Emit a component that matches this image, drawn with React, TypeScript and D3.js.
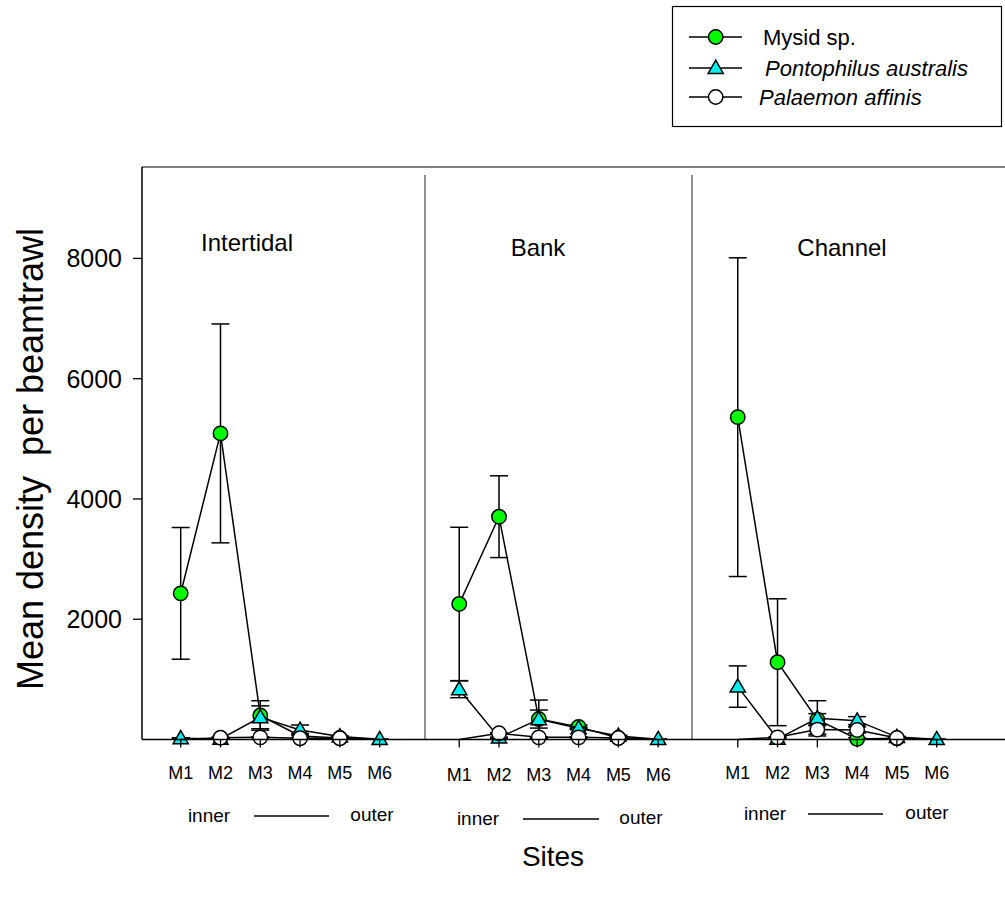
import React from 'react';
import * as d3 from 'd3';

const panels = ['Intertidal', 'Bank', 'Channel'];
const sites = ['M1', 'M2', 'M3', 'M4', 'M5', 'M6'];
const yTicks = [2000, 4000, 6000, 8000];

// per panel (Intertidal, Bank, Channel), sites M1..M6
const mysidMean = [
  [2430, 5090, 400, 60, 25, 0],
  [2254, 3705, 340, 210, 25, 0],
  [5360, 1285, 330, 10, 20, 0],
];
const mysidSE = [
  [1095, 1820, 245, 40, 10, 0],
  [1275, 680, 150, 30, 10, 0],
  [2650, 1055, 100, 20, 10, 0],
];
const pontoMean = [
  [20, 10, 369, 158, 50, 5],
  [835, 30, 336, 186, 60, 5],
  [880, 10, 352, 313, 40, 5],
];
const pontoSE = [
  [10, 10, 190, 83, 10, 5],
  [140, 10, 320, 20, 10, 5],
  [344, 10, 293, 67, 10, 5],
];
const palaMean = [
  [0, 30, 36, 20, 20, 0],
  [0, 103, 36, 36, 25, 0],
  [0, 36, 165, 158, 25, 0],
];
const palaSE = [
  [0, 10, 10, 10, 10, 0],
  [0, 10, 10, 10, 10, 0],
  [0, 10, 75, 50, 10, 0],
];
const dividers = [7.14, 13.85];

const W = 1005;
const H = 903;
const left = 142;
const right = 1005;
const top = 167;
const bottom = 739.5;

const x = d3.scaleLinear().domain([1, 20]).range([180.7, 936.7]);
const y = d3.scaleLinear().domain([0, 9520]).range([bottom, top]);
const pos = (k: number, i: number) => k * 7 + i + 1;

const GREEN = '#00ff00';
const CYAN = '#00eeee';
const font = 'Arial, "Liberation Sans", Helvetica, sans-serif';

type Shape = 'circle' | 'triangle';

function Marker({ cx, cy, shape, fill }: { cx: number; cy: number; shape: Shape; fill: string }) {
  if (shape === 'circle') {
    return <circle cx={cx} cy={cy} r={7.2} fill={fill} stroke="#000" strokeWidth={1.5} />;
  }
  const sym = d3.symbol().type(d3.symbolTriangle).size(100)();
  return <path d={sym || ''} transform={`translate(${cx},${cy + 1})`} fill={fill} stroke="#000" strokeWidth={1.5} />;
}

function Series({ means, ses, shape, fill }: { means: number[][]; ses: number[][]; shape: Shape; fill: string }) {
  const line = d3.line<[number, number]>().x((d) => d[0]).y((d) => d[1]);
  return (
    <g>
      {means.map((row, k) => {
        const pts: [number, number][] = row.map((v, i) => [x(pos(k, i)), y(v)]);
        return <path key={'l' + k} d={line(pts) || ''} fill="none" stroke="#000" strokeWidth={1.5} />;
      })}
      {means.map((row, k) =>
        row.map((v, i) => {
          const se = ses[k][i];
          if (!se) return null;
          const cx = x(pos(k, i));
          const y1 = y(v + se);
          const y0 = y(Math.max(v - se, 0));
          return (
            <g key={'e' + k + '-' + i} stroke="#000" strokeWidth={1.5}>
              <line x1={cx} x2={cx} y1={y1} y2={y0} />
              <line x1={cx - 9} x2={cx + 9} y1={y1} y2={y1} />
              {v - se > 0 && <line x1={cx - 9} x2={cx + 9} y1={y0} y2={y0} />}
            </g>
          );
        })
      )}
      {means.map((row, k) =>
        row.map((v, i) =>
          v === 0 ? null : (
            <Marker key={'m' + k + '-' + i} cx={x(pos(k, i))} cy={y(v)} shape={shape} fill={fill} />
          )
        )
      )}
    </g>
  );
}

const innerOuter = [
  { inner: 209, lineA: 254, lineB: 329, outer: 372, y: 816 },
  { inner: 478, lineA: 523, lineB: 599, outer: 641, y: 819 },
  { inner: 765, lineA: 808, lineB: 883, outer: 927, y: 814 },
];
const titleX = [247, 538, 842];

export default function App() {
  return (
    <svg width={W} height={H} style={{ position: 'absolute', left: 0, top: 0, background: '#fff' }} fontFamily={font}>
      <rect x={0} y={0} width={W} height={H} fill="#fff" />
      {/* legend */}
      <g>
        <rect x={672.5} y={6.5} width={329} height={120} fill="#fff" stroke="#000" strokeWidth={1.2} />
        {[
          { label: 'Mysid sp.', shape: 'circle' as Shape, fill: GREEN, italic: false, cy: 37, tx: 763 },
          { label: 'Pontophilus australis', shape: 'triangle' as Shape, fill: CYAN, italic: true, cy: 68, tx: 765 },
          { label: 'Palaemon affinis', shape: 'circle' as Shape, fill: '#fff', italic: true, cy: 97, tx: 759 },
        ].map((d) => (
          <g key={d.label}>
            <line x1={689} x2={742} y1={d.cy} y2={d.cy} stroke="#000" strokeWidth={1.5} />
            <Marker cx={715.7} cy={d.cy} shape={d.shape} fill={d.fill} />
            <text x={d.tx} y={d.cy + 8} fontSize={22} fontStyle={d.italic ? 'italic' : 'normal'}>
              {d.label}
            </text>
          </g>
        ))}
      </g>

      {/* frame */}
      <line x1={left} x2={right} y1={top} y2={top} stroke="#000" strokeWidth={1.2} />
      <line x1={left} x2={left} y1={top} y2={bottom} stroke="#000" strokeWidth={1.5} />
      {dividers.map((d) => (
        <line key={d} x1={x(d)} x2={x(d)} y1={175} y2={bottom} stroke="#555" strokeWidth={1.3} />
      ))}

      {/* y ticks */}
      {yTicks.map((t) => (
        <g key={t}>
          <line x1={left - 9} x2={left} y1={y(t)} y2={y(t)} stroke="#000" strokeWidth={1.3} />
          <text x={122} y={y(t) + 9} fontSize={25} textAnchor="end">
            {t}
          </text>
        </g>
      ))}

      {/* panel titles */}
      {panels.map((p, k) => (
        <text key={p} x={titleX[k]} y={k === 0 ? 251 : 256} fontSize={24} textAnchor="middle">
          {p}
        </text>
      ))}

      {/* series */}
      <Series means={mysidMean} ses={mysidSE} shape="circle" fill={GREEN} />
      <Series means={pontoMean} ses={pontoSE} shape="triangle" fill={CYAN} />
      <Series means={palaMean} ses={palaSE} shape="circle" fill="#fff" />

      {/* x axis */}
      <line x1={left} x2={right} y1={bottom} y2={bottom} stroke="#000" strokeWidth={1.5} />
      {panels.map((p, k) =>
        sites.map((s, i) => (
          <g key={p + s}>
            <line x1={x(pos(k, i))} x2={x(pos(k, i))} y1={bottom} y2={bottom + 8} stroke="#000" strokeWidth={1.3} />
            <text x={x(pos(k, i))} y={k === 1 ? 781 : 779} fontSize={18} textAnchor="middle">
              {s}
            </text>
          </g>
        ))
      )}
      {innerOuter.map((d, k) => (
        <g key={'io' + k}>
          <text x={d.inner} y={d.y + 6} fontSize={19} textAnchor="middle">inner</text>
          <line x1={d.lineA} x2={d.lineB} y1={d.y} y2={d.y} stroke="#000" strokeWidth={1.3} />
          <text x={d.outer} y={d.y + 5} fontSize={19} textAnchor="middle">outer</text>
        </g>
      ))}

      {/* axis titles */}
      <text x={553} y={866} fontSize={28} textAnchor="middle">Sites</text>
      <text transform="translate(43,459) rotate(-90)" fontSize={36} textAnchor="middle" style={{ whiteSpace: 'pre' }}>
        {'Mean density  per beamtrawl'}
      </text>
    </svg>
  );
}
